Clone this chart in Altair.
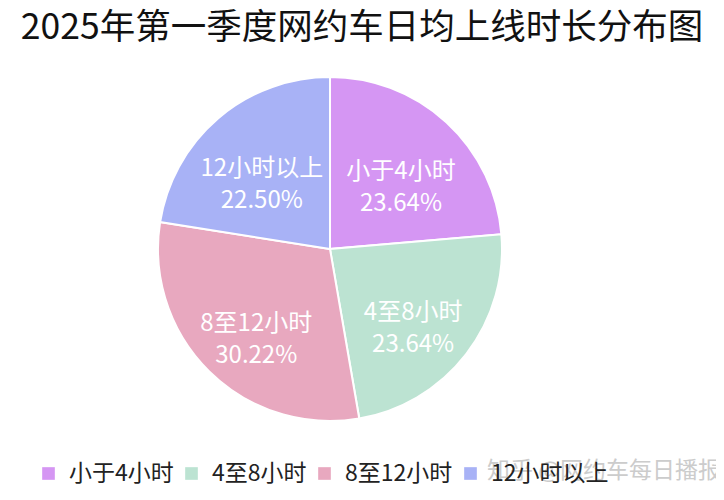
import altair as alt
import pandas as pd

# ---- data ----
categories = ["小于4小时", "4至8小时", "8至12小时", "12小时以上"]
shares = [23.64, 23.64, 30.22, 22.50]
colors = ["#d596f3", "#bce3d2", "#e8a8bf", "#a8b2f6"]
title_text = "2025年第一季度网约车日均上线时长分布图"
watermark_text = "知乎 @网约车每日播报"

FONT = "Noto Sans CJK SC"
W, H = 708, 484
CX, CY = 322, 241

df = pd.DataFrame({
    "cat": categories,
    "share": shares,
    "idx": list(range(len(categories))),
})
df["label"] = [f"{c}\n{s:.2f}%" for c, s in zip(categories, shares)]

base = alt.Chart(df).encode(
    theta=alt.Theta("share:Q", stack=True),
    order=alt.Order("idx:Q"),
)

pie = base.mark_arc(outerRadius=172, stroke="white", strokeWidth=2).encode(
    x=alt.value(CX),
    y=alt.value(CY),
    color=alt.Color(
        "cat:N",
        scale=alt.Scale(domain=categories, range=colors),
        legend=alt.Legend(
            title=None,
            orient="none",
            legendX=29,
            legendY=454,
            padding=0,
            direction="horizontal",
            columns=4,
            gridAlign="none",
            symbolType="square",
            symbolSize=160,
            symbolStrokeWidth=0,
            labelFont=FONT,
            labelFontSize=23,
            labelColor="#222222",
            labelOffset=9,
            columnPadding=6,
        ),
    ),
)

labels = base.mark_text(
    radius=105,
    font=FONT,
    fontSize=24,
    lineHeight=32,
    color="white",
    lineBreak="\n",
    align="center",
    baseline="middle",
).encode(
    x=alt.value(CX),
    y=alt.value(CY),
    text="label:N",
)

title = alt.Chart(pd.DataFrame({"t": [title_text]})).mark_text(
    font=FONT, fontSize=35.5, color="#111111", align="center", baseline="middle"
).encode(x=alt.value(354), y=alt.value(20), text="t:N")

wm = alt.Chart(pd.DataFrame({"t": [watermark_text]})).mark_text(
    font=FONT, fontSize=23, color="#bbbbbb", opacity=0.75, align="left", baseline="middle"
).encode(x=alt.value(479), y=alt.value(463), text="t:N")

chart = alt.layer(pie, labels, title, wm).properties(
    width=W,
    height=H,
    autosize=alt.AutoSizeParams(type="none"),
    padding=0,
).configure_view(stroke=None)

chart.save("out.html", embed_options={"renderer": "svg", "actions": False})
